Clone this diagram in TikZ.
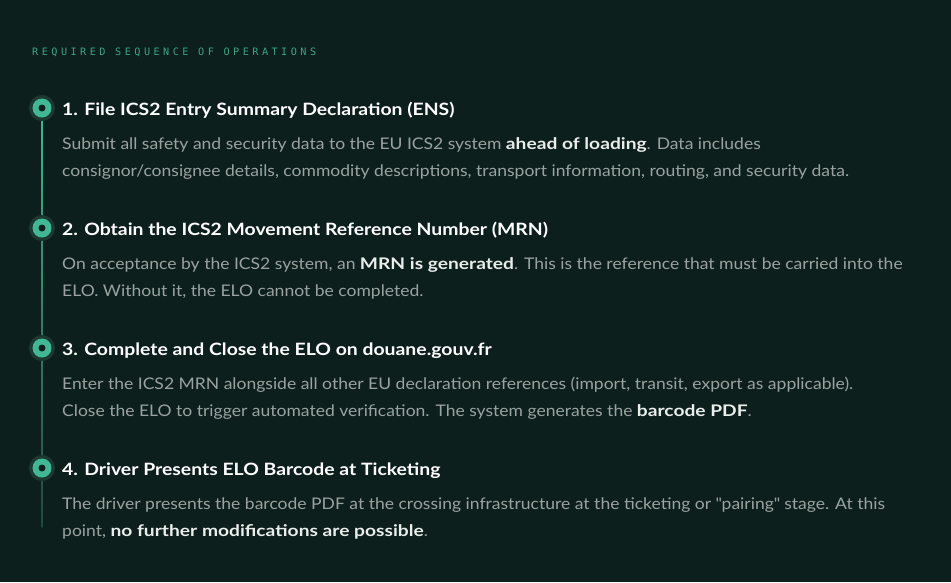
\documentclass[tikz,border=0pt]{standalone}
\usepackage{fontspec}
\setmainfont{Lato}[FakeStretch=1.095]
\newfontfamily\titlefont{Lato}[FakeStretch=1.14]
\newfontfamily\boldbody{Lato}[FakeStretch=1.2]
\newfontfamily\monohead[LetterSpace=34]{DejaVu Sans Mono}
\definecolor{bgdark}{HTML}{0C1F1C}
\definecolor{tealdot}{HTML}{40B896}
\definecolor{tealhalo}{HTML}{1B3832}
\definecolor{tealline}{HTML}{3DB892}
\definecolor{teallow}{HTML}{1E4A3F}
\definecolor{tealhead}{HTML}{3AA583}
\definecolor{bodygray}{HTML}{9AA39F}
\definecolor{boldwhite}{HTML}{E9EEEB}
\tikzset{
  steptitle/.style={anchor=base west, inner sep=0pt, text=white, font=\titlefont\fontsize{17}{20}\selectfont\bfseries},
  stepbody/.style={anchor=base west, inner sep=0pt, text=bodygray, font=\fontsize{16}{20}\selectfont},
}
\newcommand{\hl}[1]{\textcolor{boldwhite}{\boldbody\bfseries #1}}
\begin{document}
\begin{tikzpicture}[x=1pt,y=-1pt]
\fill[bgdark] (0,0) rectangle (951,582);
\useasboundingbox (0,0) rectangle (951,582);

\node[anchor=base west, inner sep=0pt, text=tealhead, font=\monohead\fontsize{10.2}{12}\selectfont] (head) at (32,55) {REQUIRED SEQUENCE OF OPERATIONS};

% timeline
\shade[top color=tealline, bottom color=teallow] (41.5,108) rectangle (42.5,527);

\foreach \i/\y in {1/108,2/228,3/348,4/468}{
  \fill[tealhalo] (42,\y) circle [radius=13];
  \fill[tealdot] (42,\y) circle [radius=9.5];
  \fill[bgdark] (42,\y) circle [radius=3.5];
  \coordinate (m\i) at (42,\y);
}

\node[steptitle] (t1) at (62,115) {1. File ICS2 Entry Summary Declaration (ENS)};
\node[stepbody] (b1a) at (62,149) {Submit all safety and security data to the EU ICS2 system \hl{ahead of loading}. Data includes};
\node[stepbody] (b1b) at (62,176) {consignor/consignee details, commodity descriptions, transport information, routing, and security data.};

\node[steptitle] (t2) at (62,235) {2. Obtain the ICS2 Movement Reference Number (MRN)};
\node[stepbody] (b2a) at (62,269) {On acceptance by the ICS2 system, an \hl{MRN is generated}. This is the reference that must be carried into the};
\node[stepbody] (b2b) at (62,296) {ELO. Without it, the ELO cannot be completed.};

\node[steptitle] (t3) at (62,355) {3. Complete and Close the ELO on douane.gouv.fr};
\node[stepbody] (b3a) at (62,389) {Enter the ICS2 MRN alongside all other EU declaration references (import, transit, export as applicable).};
\node[stepbody] (b3b) at (62,416) {Close the ELO to trigger automated verification. The system generates the \hl{barcode PDF}.};

\node[steptitle] (t4) at (62,475) {4. Driver Presents ELO Barcode at Ticketing};
\node[stepbody] (b4a) at (62,509) {The driver presents the barcode PDF at the crossing infrastructure at the ticketing or \textquotedbl pairing\textquotedbl{} stage. At this};
\node[stepbody] (b4b) at (62,536) {point, \hl{no further modifications are possible}.};
\end{tikzpicture}
\end{document}
